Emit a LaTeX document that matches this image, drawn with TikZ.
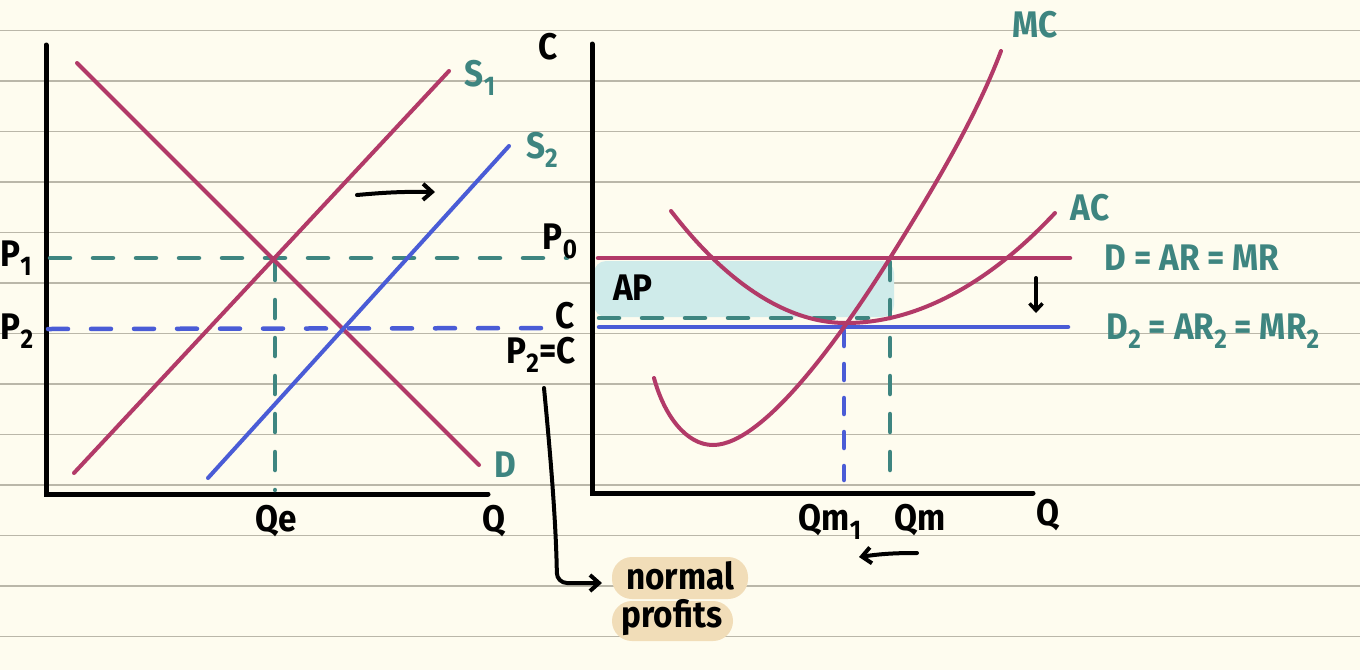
\documentclass[tikz,border=0pt]{standalone}
\usepackage{fontspec}
\setmainfont{Fira Sans}[FakeStretch=0.9]
\usetikzlibrary{arrows.meta}
\definecolor{bgc}{HTML}{FEFCEF}
\definecolor{rulec}{HTML}{BAB7A9}
\definecolor{crim}{HTML}{B23A68}
\definecolor{blu}{HTML}{4A5CD6}
\definecolor{tea}{HTML}{3E8580}
\definecolor{apfill}{HTML}{CFEBEA}
\definecolor{hl}{HTML}{F1DDB8}
\newcommand\lsub[1]{\raisebox{-0.45ex}{\fontsize{27}{27}\selectfont #1}}
\tikzset{
  rulel/.style={rulec, line width=1.8pt},
  axis/.style={black, line width=5pt},
  curve/.style={line width=4pt, line cap=round},
  dsh/.style={line width=4.5pt, line cap=round, dash pattern=on 20pt off 23pt},
  lab/.style={inner sep=0pt, font=\fontsize{37}{37}\selectfont\bfseries},
  hand/.style={black, line width=4pt, line cap=round, -{Straight Barb[length=9pt,width=16pt,line width=4pt]}},
}
\begin{document}
\begin{tikzpicture}[x=1pt,y=-1pt]
\fill[bgc] (0,0) rectangle (1360,670);
\useasboundingbox (0,0) rectangle (1360,670);
\foreach \k in {0,...,12} \draw[rulel] (0,30.5+50.5*\k) -- (1360,30.5+50.5*\k);

% ---------- highlights and shading ----------
\fill[hl, rounded corners=20pt] (612,557) rectangle (748,599);
\fill[hl, rounded corners=20pt] (612,601) rectangle (733,641);
\fill[apfill, rounded corners=12pt] (594,261) rectangle (894,317);

% ---------- left graph ----------
\coordinate (lo) at (46,494);
\coordinate (ly) at (46,45);
\coordinate (lx) at (488,494);
\draw[axis, line cap=round] (ly) -- (lo) -- (lx);

\coordinate (p1a) at (50,258);
\coordinate (p1b) at (567,258);
\draw[dsh, tea] (p1a) -- (p1b);
\coordinate (p2a) at (48,329);
\coordinate (p2b) at (562,328);
\draw[dsh, blu] (p2a) -- (p2b);
\coordinate (qea) at (275,262);
\coordinate (qeb) at (275,490);
\draw[dsh, tea, dash pattern=on 18pt off 20pt] (qea) -- (qeb);

\coordinate (da) at (77,63);
\coordinate (db) at (479,465);
\draw[curve, crim] (da) -- (db);
\coordinate (s1a) at (74,473);
\coordinate (s1b) at (449,71);
\draw[curve, crim] (s1a) -- (s1b);
\coordinate (s2a) at (208,478);
\coordinate (s2b) at (509,146);
\draw[curve, blu] (s2a) -- (s2b);

\coordinate (ra) at (357,195);
\coordinate (rb) at (435,192);
\draw[hand] (ra) to[bend left=3] (rb);

\node[lab] (P1) at (16,258) {P\lsub{1}};
\node[lab] (P2) at (17,331) {P\lsub{2}};
\node[lab, text=tea] (S1) at (480,78) {S\lsub{1}};
\node[lab, text=tea] (S2) at (542,150) {S\lsub{2}};
\node[lab, text=tea] (Dl) at (505,465) {D};
\node[lab] (Ql) at (494,521) {Q};
\node[lab] (Qe) at (276,521) {Qe};

% ---------- right graph ----------
\coordinate (ro) at (592,493);
\coordinate (ry) at (592,44);
\coordinate (rx) at (1033,493);
\draw[axis, line cap=round] (ry) -- (ro) -- (rx);

\coordinate (apa) at (599,318);
\coordinate (apb) at (868,318);
\draw[dsh, tea] (apa) -- (apb);
\coordinate (qma) at (890,262);
\coordinate (qmb) at (890,488);
\draw[dsh, tea, dash pattern=on 18pt off 20pt] (qma) -- (qmb);
\coordinate (qm1a) at (844,330);
\coordinate (qm1b) at (844,480);
\draw[dsh, blu, dash pattern=on 16pt off 18pt] (qm1a) -- (qm1b);

\coordinate (dra) at (598,258);
\coordinate (drb) at (1070,258);
\draw[curve, crim, line width=4.5pt] (dra) -- (drb);
\coordinate (d2a) at (599,327);
\coordinate (d2b) at (1068,327);
\draw[curve, blu, line width=4.5pt] (d2a) -- (d2b);

% AC
\draw[curve, crim] (671,211) parabola bend (846,323) (1055,213);
% MC
\draw[curve, crim] (654,378) .. controls (664,415) and (686,445) .. (713,445)
   .. controls (765,445) and (845,330) .. (890,258)
   .. controls (930,194) and (975,120) .. (1001,51);

\coordinate (dna) at (1036,278);
\coordinate (dnb) at (1036,313);
\draw[hand, -{Straight Barb[length=7pt,width=13pt,line width=3.5pt]}] (dna) -- (dnb);
\coordinate (lfa) at (917,553);
\coordinate (lfb) at (859,557);
\draw[hand] (lfa) to[bend right=4] (lfb);

\coordinate (bra) at (544,388);
\coordinate (brc) at (557,583);
\coordinate (brb) at (602,583);
\draw[hand, rounded corners=10pt] (bra) .. controls (550,450) and (556,520) .. (brc) -- (brb);

\node[lab] (Cy) at (548,47) {C};
\node[lab] (P0) at (560,241) {P\lsub{0}};
\node[lab] (Cr) at (565,316) {C};
\node[lab] (P2C) at (541,355) {P\lsub{2}=C};
\node[lab] (AP) at (633,288) {AP};
\node[lab, text=tea] (MC) at (1035,25) {MC};
\node[lab, text=tea] (AC) at (1090,208) {AC};
\node[lab, text=tea] (DAR) at (1192,258) {D = AR = MR};
\node[lab, text=tea] (D2) at (1213,331) {D\lsub{2} = AR\lsub{2} = MR\lsub{2}};
\node[lab] (Qm1) at (830,522) {Qm\lsub{1}};
\node[lab] (Qm) at (920,520) {Qm};
\node[lab] (Qr) at (1048,515) {Q};
\node[lab] (norm) at (680,576) {normal};
\node[lab] (prof) at (672,618) {profits};
\end{tikzpicture}
\end{document}
